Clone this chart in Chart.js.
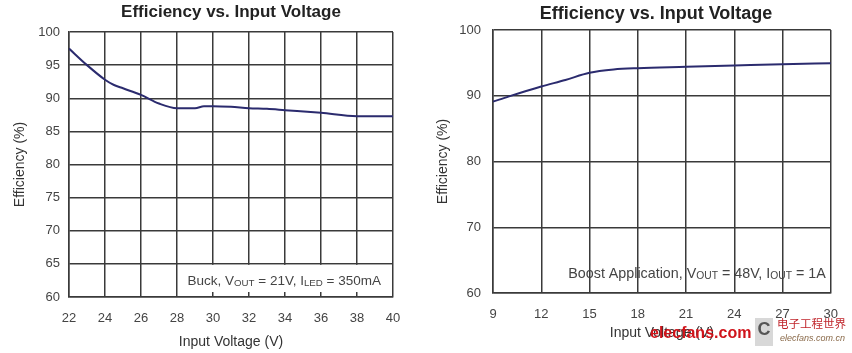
<!DOCTYPE html>
<html>
<head>
<meta charset="utf-8">
<script src="https://cdn.jsdelivr.net/npm/chart.js@4"></script>
<style>
  body { margin: 0; background: #fff; }
  .wrap { position: absolute; top: 0; height: 353px; }
  #leftWrap { left: 0; width: 420px; }
  #rightWrap { left: 430px; width: 422px; }
</style>
</head>
<body>
<div class="wrap" id="leftWrap"><canvas id="buckChart" width="420" height="353"></canvas></div>
<div class="wrap" id="rightWrap"><canvas id="boostChart" width="422" height="353"></canvas></div>
<script>
// Buck chart data
const buckVoltage = [22, 23, 24, 24.5, 25, 26, 27, 28, 29, 29.5, 30, 31, 32, 33, 34, 36, 38, 40];
const buckEfficiency = [97.5, 95.0, 92.8, 92.0, 91.5, 90.5, 89.2, 88.5, 88.5, 88.8, 88.8, 88.7, 88.5, 88.4, 88.2, 87.8, 87.3, 87.3];
const buckXTicks = [22, 24, 26, 28, 30, 32, 34, 36, 38, 40];
const buckYTicks = [60, 65, 70, 75, 80, 85, 90, 95, 100];

// Boost chart data
const boostVoltage = [9, 10, 12, 13.5, 15, 16.5, 18, 21, 24, 27, 30];
const boostEfficiency = [89.1, 89.9, 91.4, 92.4, 93.5, 94.0, 94.2, 94.4, 94.6, 94.8, 94.95];
const boostXTicks = [9, 12, 15, 18, 21, 24, 27, 30];
const boostYTicks = [60, 70, 80, 90, 100];

const titleText = 'Efficiency vs. Input Voltage';
const xTitle = 'Input Voltage (V)';
const yTitle = 'Efficiency (%)';

const gridColor = '#3a3a3a';
const lineColor = '#2b2b6e';
const fontFamily = '"Liberation Sans", Arial, sans-serif';

// draws "Buck, VOUT = 21V ..." style text with small-caps subscripts
function drawParts(ctx, parts, xRight, baseline, size) {
  let total = 0;
  parts.forEach(p => {
    ctx.font = (p.small ? size * 0.72 : size) + 'px ' + fontFamily;
    p.w = ctx.measureText(p.t).width;
    total += p.w;
  });
  let x = xRight - total;
  ctx.fillStyle = '#444';
  ctx.textBaseline = 'alphabetic';
  ctx.textAlign = 'left';
  parts.forEach(p => {
    ctx.font = (p.small ? size * 0.72 : size) + 'px ' + fontFamily;
    ctx.fillText(p.t, x, baseline + (p.small ? 1 : 0));
    x += p.w;
  });
}

// chart title centred where the original sits
function titlePlugin(x, y, size) {
  return {
    id: 'topTitle',
    afterDraw(chart) {
      const ctx = chart.ctx;
      ctx.save();
      ctx.fillStyle = '#222';
      ctx.font = 'bold ' + size + 'px ' + fontFamily;
      ctx.textAlign = 'center';
      ctx.textBaseline = 'middle';
      ctx.fillText(titleText, x, y);
      ctx.restore();
    }
  };
}

const buckNote = {
  id: 'buckNote',
  afterDatasetsDraw(chart) {
    const ctx = chart.ctx;
    const xs = chart.scales.x, ys = chart.scales.y;
    const a = chart.chartArea;
    const x0 = xs.getPixelForValue(28) + 1;
    const y0 = ys.getPixelForValue(65) + 1;
    ctx.save();
    ctx.fillStyle = '#fff';
    ctx.fillRect(x0, y0, a.right - x0 - 1, a.bottom - 5 - y0);
    drawParts(ctx, [
      { t: 'Buck, V' }, { t: 'OUT', small: true }, { t: ' = 21V, I' },
      { t: 'LED', small: true }, { t: ' = 350mA' }
    ], a.right - 12, a.bottom - 12, 13.5);
    ctx.restore();
  }
};

const boostNote = {
  id: 'boostNote',
  afterDatasetsDraw(chart) {
    const ctx = chart.ctx;
    const a = chart.chartArea;
    ctx.save();
    drawParts(ctx, [
      { t: 'Boost Application, V' }, { t: 'OUT', small: true }, { t: ' = 48V, I' },
      { t: 'OUT', small: true }, { t: ' = 1A' }
    ], a.right - 5, a.bottom - 15, 14.3);
    ctx.restore();
  },
  afterDraw(chart) {
    // watermark
    const ctx = chart.ctx;
    ctx.save();
    ctx.fillStyle = '#d8d8d8';
    ctx.fillRect(325, 318, 18, 28);
    ctx.fillStyle = '#555';
    ctx.font = 'bold 18px ' + fontFamily;
    ctx.textAlign = 'center';
    ctx.textBaseline = 'middle';
    ctx.fillText('C', 334, 330);
    ctx.fillStyle = '#d0141b';
    ctx.font = 'bold 16px ' + fontFamily;
    ctx.textAlign = 'left';
    ctx.fillText('elecfans.com', 220, 334);
    ctx.fillStyle = '#c0262c';
    ctx.font = '11.5px "Noto Sans CJK SC"';
    ctx.fillText('电子工程世界', 347, 324);
    ctx.fillStyle = '#8a6a4a';
    ctx.font = 'italic 9px ' + fontFamily;
    ctx.fillText('elecfans.com.cn', 350, 338);
    ctx.restore();
  }
};

function makeChart(id, xs, ys, xTicks, yTicks, cfg, plugins) {
  const ctx = document.getElementById(id);
  return new Chart(ctx.getContext('2d'), {
    type: 'line',
    data: {
      datasets: [{
        data: xs.map((x, i) => ({ x: x, y: ys[i] })),
        borderColor: lineColor,
        borderWidth: 2,
        pointRadius: 0,
        cubicInterpolationMode: 'monotone',
        fill: false
      }]
    },
    options: {
      responsive: false,
      animation: false,
      devicePixelRatio: 1,
      layout: { padding: { left: 0, right: cfg.padRight, top: cfg.padTop, bottom: 0 } },
      plugins: {
        legend: { display: false },
        tooltip: { enabled: false },
        title: { display: false }
      },
      scales: {
        x: {
          type: 'linear',
          min: xTicks[0],
          max: xTicks[xTicks.length - 1],
          afterBuildTicks: s => { s.ticks = xTicks.map(v => ({ value: v })); },
          afterFit: s => { s.height = cfg.xHeight; },
          grid: { color: gridColor, lineWidth: 1.5, drawTicks: false },
          border: { color: gridColor, width: 1.5 },
          ticks: { color: '#444', font: { family: fontFamily, size: 13 }, padding: cfg.xTickPad, maxRotation: 0 },
          title: {
            display: true, text: xTitle, color: '#333',
            font: { family: fontFamily, size: 14 },
            padding: { top: 0, bottom: cfg.xTitlePad }
          }
        },
        y: {
          min: yTicks[0],
          max: yTicks[yTicks.length - 1],
          afterBuildTicks: s => { s.ticks = yTicks.map(v => ({ value: v })); },
          afterFit: s => { s.width = cfg.yWidth; },
          grid: { color: gridColor, lineWidth: 1.5, drawTicks: false },
          border: { color: gridColor, width: 1.5 },
          ticks: { color: '#444', font: { family: fontFamily, size: 13 }, padding: cfg.yTickPad },
          title: {
            display: true, text: yTitle, color: '#333',
            font: { family: fontFamily, size: 14 },
            padding: { top: cfg.yTitlePad, bottom: 0 }
          }
        }
      }
    },
    plugins: plugins
  });
}

makeChart('buckChart', buckVoltage, buckEfficiency, buckXTicks, buckYTicks, {
  padRight: 27, padTop: 32,
  xHeight: 56, xTickPad: 14, xTitlePad: 2, yWidth: 69, yTickPad: 9, yTitlePad: 12
}, [buckNote, titlePlugin(231, 12, 17)]);

makeChart('boostChart', boostVoltage, boostEfficiency, boostXTicks, boostYTicks, {
  padRight: 21, padTop: 30,
  xHeight: 60, xTickPad: 14, xTitlePad: 11, yWidth: 63, yTickPad: 12, yTitlePad: 5
}, [boostNote, titlePlugin(226, 14, 18)]);
</script>
</body>
</html>
